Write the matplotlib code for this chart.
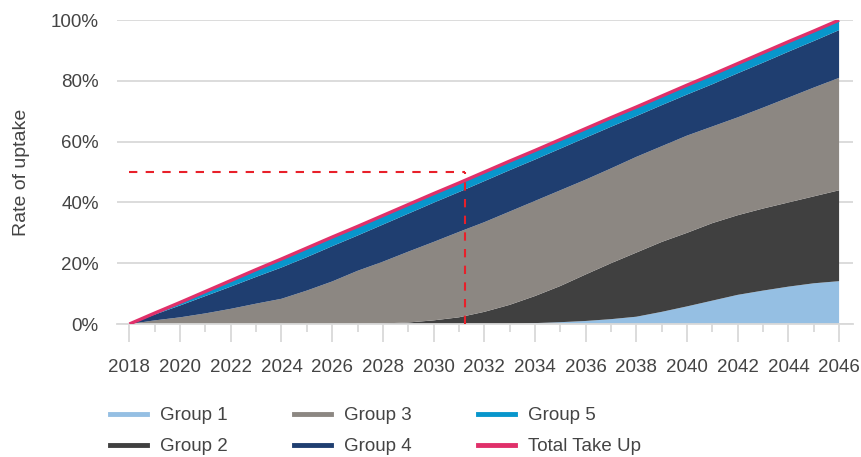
import numpy as np
import matplotlib.pyplot as plt
from matplotlib.ticker import PercentFormatter, MultipleLocator

plt.rcParams['font.family'] = ['Liberation Sans', 'DejaVu Sans']

years = np.arange(2018, 2047)

# share of uptake per group, %
group1 = [0, 0, 0, 0, 0, 0, 0, 0, 0, 0, 0, 0, 0, 0, 0, 0,
          0.3, 0.6, 1.0, 1.6, 2.4, 4.0, 5.8, 7.7, 9.6, 11.0, 12.3, 13.4, 14.1]
group2 = [0, 0, 0, 0, 0, 0, 0, 0, 0, 0, 0.2, 0.5, 1.2, 2.2, 4.0, 6.3,
          8.9, 11.9, 15.3, 18.4, 21.1, 23.0, 24.2, 25.5, 26.2, 27.0, 27.7, 28.6, 29.9]
group3 = [0, 1.2, 2.2, 3.5, 5.0, 6.7, 8.3, 11.0, 14.0, 17.5, 20.3, 23.3, 25.8, 28.1, 29.5, 30.7,
          31.3, 31.5, 31.2, 31.2, 31.5, 31.5, 32.0, 31.8, 32.2, 33.2, 34.5, 35.8, 37.0]
group4 = [0, 1.9, 3.9, 5.7, 7.3, 8.8, 10.3, 11.0, 11.6, 11.6, 12.2, 12.5, 12.9, 13.1, 13.5, 13.6,
          13.6, 13.7, 13.8, 13.7, 13.4, 13.5, 13.5, 13.9, 14.5, 14.8, 15.1, 15.3, 15.7]
group5 = [0, 0.5, 1.0, 1.5, 2.0, 2.4, 2.8, 3.0, 3.0, 3.0, 3.0, 3.0, 3.0, 3.0, 3.0, 3.0,
          3.0, 3.0, 3.0, 3.0, 3.0, 3.0, 3.0, 3.1, 3.2, 3.2, 3.3, 3.3, 3.3]
total = [0, 3.6, 7.1, 10.7, 14.3, 17.9, 21.4, 25.0, 28.6, 32.1, 35.7, 39.3, 42.9, 46.4, 50.0,
         53.6, 57.1, 60.7, 64.3, 67.9, 71.4, 75.0, 78.6, 82.1, 85.7, 89.3, 92.9, 96.4, 100.0]

labels = ['Group 1', 'Group 2', 'Group 3', 'Group 4', 'Group 5']
colors = ['#95bfe3', '#404040', '#8c8782', '#1f3e70', '#0896cc']
total_color = '#e0306a'

target_share = 50
target_year = 2031.25

text_col = '#444444'
grid_col = '#d9d9d9'

fig = plt.figure(figsize=(8.62, 4.57), dpi=100)
ax = fig.add_axes([0.1354, 0.291, 0.8542, 0.665])

ax.stackplot(years, group1, group2, group3, group4, group5, colors=colors, labels=labels, zorder=2)
ax.plot(years, total, color=total_color, lw=2.4, label='Total Take Up', zorder=3, solid_capstyle='butt')

# 50% marker
ax.plot([years[0], target_year], [target_share, target_share], color='#e8202a', lw=1.5, dashes=(4, 4), zorder=4)
ax.plot([target_year, target_year], [0, target_share], color='#e8202a', lw=1.5, dashes=(4, 4), zorder=4)

ax.set_xlim(2017.5, 2046.55)
ax.set_ylim(0, 100)
ax.yaxis.set_major_locator(MultipleLocator(20))
ax.yaxis.set_major_formatter(PercentFormatter(100, decimals=0))
ax.set_xticks(years[::2])
ax.set_xticks(years[1::2], minor=True)

ax.grid(axis='y', color=grid_col, lw=1.3, zorder=0)
ax.set_axisbelow(True)
for s in ['left', 'right', 'top']:
    ax.spines[s].set_visible(False)
ax.spines['bottom'].set_color(grid_col)
ax.spines['bottom'].set_linewidth(1.3)

ax.tick_params(axis='y', length=0, pad=13, labelsize=13.5, labelcolor=text_col)
ax.tick_params(axis='x', which='major', length=13, width=1.3, color=grid_col, pad=12,
               labelsize=13.5, labelcolor=text_col)
ax.tick_params(axis='x', which='minor', length=6, width=1.3, color=grid_col)

ax.set_ylabel('Rate of uptake', fontsize=14, color=text_col, labelpad=15)

handles = [plt.Line2D([], [], color=c, lw=3.5) for c in colors] + [plt.Line2D([], [], color=total_color, lw=3.5)]
fig.legend(handles, labels + ['Total Take Up'], ncol=3, loc='upper left',
           bbox_to_anchor=(101 / 862, 0.13), frameon=False, fontsize=13.5,
           handlelength=1.95, handletextpad=0.7, columnspacing=3.55, labelspacing=0.75,
           borderpad=0, labelcolor=text_col)

fig.savefig('out.png', dpi=100)
